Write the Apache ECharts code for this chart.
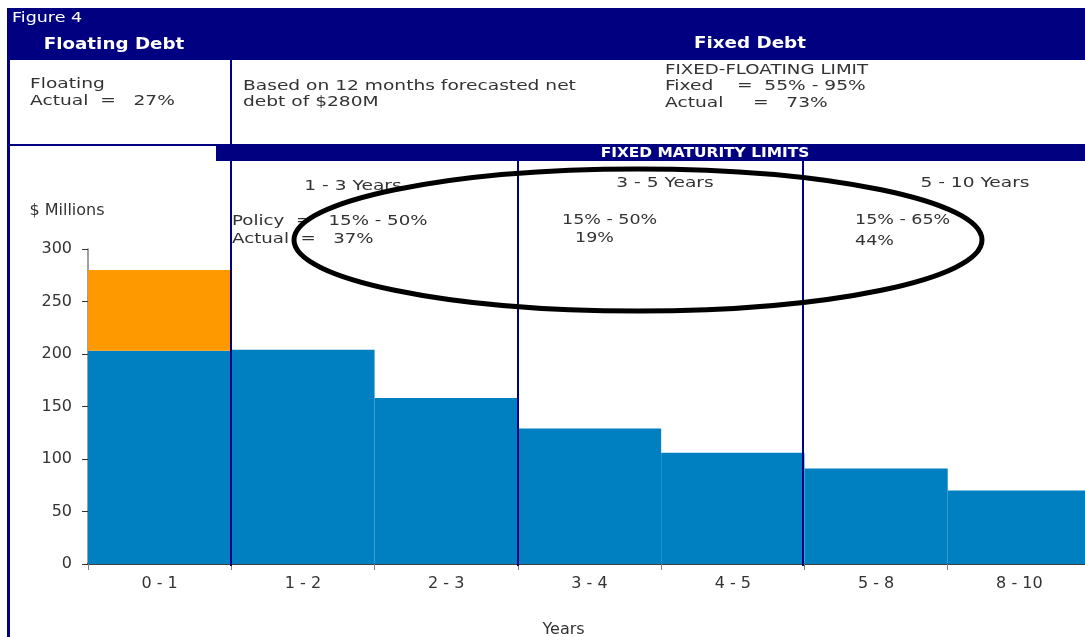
<!DOCTYPE html>
<html>
<head>
<meta charset="utf-8">
<script src="https://cdn.jsdelivr.net/npm/echarts@6/dist/echarts.min.js"></script>
<style>html,body{margin:0;padding:0;background:#fff}#c{width:1085px;height:637px}</style>
</head>
<body>
<div id="c"></div>
<script>
var categories = ['0 - 1', '1 - 2', '2 - 3', '3 - 4', '4 - 5', '5 - 8', '8 - 10'];
var fixedDebt = [203, 204, 158, 129, 106, 91, 70];
var floatingDebt = [77, null, null, null, null, null, null];
var yMin = 0, yMax = 300, yStep = 50;

var NAVY = '#000080';
var FONT = 'DejaVu Sans';
var TXT = '#333333';
function txt(x, y, s, opt) {
  opt = opt || {};
  return {
    type: 'text', x: x, y: y, z: 100, scaleX: opt.sx || 1.33,
    style: {
      text: s, fill: opt.fill || TXT, font: (opt.bold ? 'bold ' : '') + (opt.size || 14) + 'px "' + FONT + '"',
      align: opt.align || 'left', verticalAlign: 'middle'
    }
  };
}
function vline(x, y1, y2) {
  return { type: 'line', z: 100, shape: { x1: x, y1: y1, x2: x, y2: y2 }, style: { stroke: NAVY, lineWidth: 2 } };
}
function rect(x, y, w, h, c) {
  return { type: 'rect', z: 90, shape: { x: x, y: y, width: w, height: h }, style: { fill: c } };
}

var chart = echarts.init(document.getElementById('c'), null, { renderer: 'canvas' });
chart.setOption({
  animation: false,
  backgroundColor: '#ffffff',
  grid: { left: 88, top: 249, width: 1003, height: 315, containLabel: false, outerBoundsMode: 'none' },
  xAxis: {
    type: 'category', data: categories,
    name: 'Years', nameLocation: 'middle', nameGap: 58,
    nameTextStyle: { fontFamily: FONT, fontSize: 16, color: TXT, padding: [0, 52, 0, 0] },
    axisLine: { lineStyle: { color: '#000', width: 1.5 } },
    axisTick: { show: true, length: 6, lineStyle: { color: '#808080' } },
    axisLabel: { fontFamily: FONT, fontSize: 16, color: TXT, margin: 12 }
  },
  yAxis: {
    type: 'value', min: yMin, max: yMax, interval: yStep,
    name: '$ Millions', nameLocation: 'end', nameGap: 30,
    nameTextStyle: { fontFamily: FONT, fontSize: 16, color: TXT, align: 'center', padding: [0, 42, 0, 0] },
    axisLine: { show: true, lineStyle: { color: '#808080', width: 1.5 } },
    axisTick: { show: true, length: 6, lineStyle: { color: '#333' } },
    axisLabel: { fontFamily: FONT, fontSize: 16, color: TXT, margin: 16 },
    splitLine: { show: false }
  },
  series: [
    { name: 'Fixed', type: 'bar', stack: 'd', data: fixedDebt, barCategoryGap: 0, barGap: 0,
      itemStyle: { color: '#0080C0' } },
    { name: 'Floating', type: 'bar', stack: 'd', data: floatingDebt, barCategoryGap: 0, barGap: 0,
      itemStyle: { color: '#FF9900' } }
  ],
  graphic: [
    rect(8, 8, 1077, 52, NAVY),
    rect(7, 8, 3, 629, NAVY),
    rect(8, 144, 1077, 2, NAVY),
    rect(216, 145, 869, 16, NAVY),
    vline(231, 60, 566),
    vline(518, 161, 566),
    vline(803, 161, 566),
    txt(12, 18, 'Figure 4', { fill: '#fff', size: 14, sx: 1.25 }),
    txt(114, 45, 'Floating Debt', { fill: '#fff', size: 15, bold: true, align: 'center', sx: 1.22 }),
    txt(750, 44, 'Fixed Debt', { fill: '#fff', size: 15, bold: true, align: 'center', sx: 1.22 }),
    txt(705, 153, 'FIXED MATURITY LIMITS', { fill: '#fff', size: 14, bold: true, align: 'center', sx: 1.1 }),
    txt(30, 84, 'Floating'),
    txt(30, 101, 'Actual  =   27%'),
    txt(243, 86, 'Based on 12 months forecasted net'),
    txt(243, 102, 'debt of $280M'),
    txt(665, 70, 'FIXED-FLOATING LIMIT', { sx: 1.3 }),
    txt(665, 86, 'Fixed    =  55% - 95%'),
    txt(665, 103, 'Actual     =   73%'),
    txt(353, 186, '1 - 3 Years', { align: 'center' }),
    txt(665, 183, '3 - 5 Years', { align: 'center' }),
    txt(975, 183, '5 - 10 Years', { align: 'center' }),
    txt(232, 221, 'Policy  =   15% - 50%', { sx: 1.3 }),
    txt(232, 239, 'Actual  =   37%', { sx: 1.3 }),
    txt(562, 220, '15% - 50%', { sx: 1.25 }),
    txt(575, 238, '19%', { sx: 1.25 }),
    txt(855, 220, '15% - 65%', { sx: 1.25 }),
    txt(855, 241, '44%', { sx: 1.25 }),
    { type: 'ellipse', z: 110, shape: { cx: 638, cy: 240, rx: 344, ry: 71 },
      style: { fill: null, stroke: '#000', lineWidth: 5 } }
  ]
});
</script>
</body>
</html>
